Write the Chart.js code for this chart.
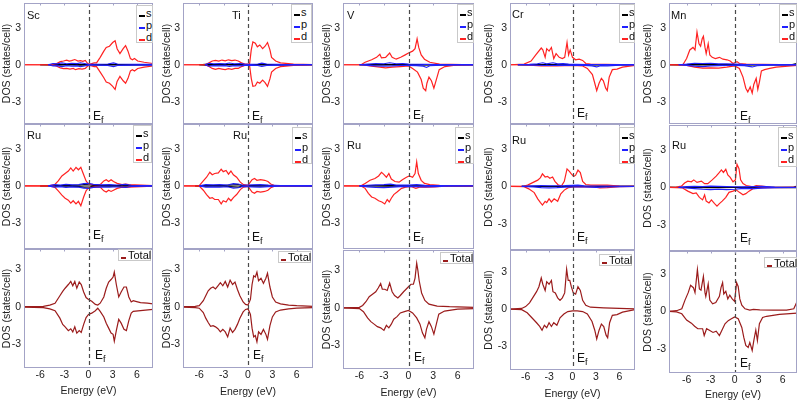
<!DOCTYPE html>
<html><head><meta charset="utf-8">
<script src="https://cdn.jsdelivr.net/npm/chart.js@4.4.0/dist/chart.umd.min.js"></script>
<style>
html,body{margin:0;padding:0;background:#fff;}
body{width:800px;height:402px;overflow:hidden;position:relative;font-family:"Liberation Sans",Arial,sans-serif;color:#111;}
canvas{position:absolute;}
.lbl{position:absolute;font-size:11px;line-height:12px;white-space:nowrap;}
.ef{position:absolute;font-size:12px;line-height:12px;white-space:nowrap;}
.ef sub{font-size:9px;vertical-align:-3px;line-height:0;}
.leg{position:absolute;border:1px solid #c9c9c9;background:#fff;box-sizing:border-box;font-size:11px;}
.leg .row{position:relative;height:12px;line-height:12px;padding-left:9px;}
.leg .smp{position:absolute;left:2px;top:8px;width:6px;height:2px;display:block;}
.tot{position:absolute;border:1px solid #c9c9c9;background:#fff;box-sizing:border-box;font-size:11px;line-height:10px;padding-left:9px;}
.tot .smp{position:absolute;left:2px;top:7px;width:5px;height:2px;display:block;}
</style>
</head><body>
<script>
// ---------------- DATA ----------------
const xTicks = [-6, -3, 0, 3, 6];
const yTicks = [-3, 0, 3];
const topLabels = ['Sc', 'Ti', 'V', 'Cr', 'Mn'];
const midLabel = 'Ru';

// Top row: Sc
const scS_up = [[-6,0],[-4.6,0.01],[-4.3,0.05],[-3.8,0.03],[-3,0.02],[-2,0.02],[-1,0.03],[0,0.01],[1.5,0.01],[3.2,0.02],[5,0.01],[8,0]];
const scS_dn = [[-6,0],[-4.6,-0.01],[-4.3,-0.05],[-3.8,-0.03],[-3,-0.02],[-2,-0.02],[-1,-0.03],[0,-0.01],[1.5,-0.01],[3.2,-0.02],[5,-0.01],[8,0]];
const scP_up = [[-5,0],[-4.4,0.1],[-3.9,0.07],[-3.3,0.15],[-2.7,0.08],[-2.1,0.12],[-1.4,0.09],[-1.0,0.16],[-0.5,0.1],[0,0.03],[1,0.04],[2.4,0.06],[3.1,0.15],[3.6,0.06],[5.5,0.04],[8,0.03]];
const scP_dn = [[-5,0],[-4.4,-0.1],[-3.9,-0.07],[-3.3,-0.15],[-2.7,-0.08],[-2.1,-0.12],[-1.4,-0.09],[-1.0,-0.16],[-0.5,-0.1],[0,-0.03],[1,-0.04],[2.4,-0.06],[3.1,-0.15],[3.6,-0.06],[5.5,-0.04],[8,-0.03]];
const scD_up = [[-8,0],[-4.5,0.02],[-4,0.08],[-3.5,0.25],[-3.1,0.3],[-2.7,0.37],[-2.4,0.3],[-2.1,0.33],[-1.7,0.42],[-1.3,0.3],[-1.0,0.33],[-0.7,0.28],[-0.4,0.35],[-0.1,0.1],[0.2,0.05],[0.7,0.15],[1.0,0.15],[1.45,0.6],[1.9,1.1],[2.2,1.4],[2.6,1.5],[3.0,1.8],[3.3,1.95],[3.55,1.3],[3.9,0.9],[4.3,1.3],[4.6,1.55],[4.9,1.1],[5.2,0.5],[5.45,0.4],[5.7,0.5],[6.1,0.3],[6.9,0.2],[8,0.1]];
const scD_dn = [[-8,0],[-4.5,-0.02],[-4,-0.1],[-3.5,-0.25],[-3.1,-0.32],[-2.7,-0.3],[-2.3,-0.35],[-1.9,-0.3],[-1.6,-0.4],[-1.2,-0.32],[-0.8,-0.35],[-0.4,-0.3],[-0.1,-0.1],[0.2,-0.05],[0.7,-0.15],[1.0,-0.15],[1.45,-0.6],[1.9,-1.05],[2.2,-1.4],[2.6,-1.5],[3.0,-1.75],[3.3,-2.0],[3.55,-1.35],[3.9,-0.95],[4.3,-1.3],[4.6,-1.5],[4.9,-1.1],[5.2,-0.5],[5.45,-0.4],[5.7,-0.5],[6.1,-0.3],[6.9,-0.2],[8,-0.1]];

// Top row: Ti
const tiS_up = [[-6,0],[-4.9,0.05],[-4.3,0.02],[-2.5,0.02],[-1,0.02],[0,0.01],[1.7,0.02],[4,0.01],[8,0]];
const tiS_dn = [[-6,0],[-4.9,-0.05],[-4.3,-0.02],[-2.5,-0.02],[-1,-0.02],[0,-0.01],[1.7,-0.02],[4,-0.01],[8,0]];
const tiP_up = [[-5.3,0],[-4.8,0.12],[-4.2,0.08],[-3.5,0.1],[-2.8,0.07],[-2.3,0.14],[-1.7,0.08],[-1.0,0.1],[-0.4,0.05],[0.3,0.03],[1.2,0.06],[1.7,0.13],[2.3,0.06],[4,0.03],[8,0.02]];
const tiP_dn = [[-5.3,0],[-4.8,-0.12],[-4.2,-0.08],[-3.5,-0.1],[-2.8,-0.07],[-2.3,-0.14],[-1.7,-0.08],[-1.0,-0.1],[-0.4,-0.05],[0.3,-0.03],[1.2,-0.06],[1.7,-0.13],[2.3,-0.06],[4,-0.03],[8,-0.02]];
const tiD_up = [[-8,0],[-5.2,0.02],[-4.8,0.15],[-4.4,0.3],[-4.0,0.35],[-3.6,0.3],[-3.2,0.38],[-2.8,0.32],[-2.4,0.4],[-2.0,0.33],[-1.6,0.38],[-1.2,0.3],[-0.8,0.15],[-0.4,0.05],[0,0.05],[0.2,0.1],[0.4,1.2],[0.6,1.85],[0.9,1.75],[1.15,1.45],[1.45,1.6],[1.8,1.3],[2.1,1.5],[2.4,1.8],[2.7,1.2],[2.9,0.6],[3.4,0.3],[4.0,0.15],[5.6,0.05],[8,0.02]];
const tiD_dn = [[-8,0],[-5.2,-0.02],[-4.8,-0.15],[-4.4,-0.3],[-4.0,-0.38],[-3.6,-0.3],[-3.2,-0.35],[-2.8,-0.4],[-2.4,-0.32],[-2.0,-0.38],[-1.6,-0.3],[-1.2,-0.3],[-0.8,-0.15],[-0.4,-0.05],[0,-0.05],[0.2,-0.1],[0.4,-1.1],[0.6,-1.75],[0.9,-1.7],[1.15,-1.4],[1.45,-1.5],[1.8,-1.25],[2.1,-1.45],[2.4,-1.75],[2.7,-1.15],[2.9,-0.6],[3.4,-0.3],[4.0,-0.15],[5.6,-0.05],[8,-0.02]];

// Top row: V
const vS_up = [[-6,0],[-4,0.01],[-2,0.02],[0,0.01],[2,0.01],[8,0]];
const vS_dn = [[-6,0],[-4,-0.01],[-2,-0.02],[0,-0.01],[2,-0.02],[8,0]];
const vP_up = [[-6,0],[-5,0.05],[-4,0.1],[-3,0.08],[-2.3,0.16],[-1.5,0.08],[-0.7,0.1],[0,0.05],[1,0.04],[2,0.03],[4,0.02],[8,0.01]];
const vP_dn = [[-6,0],[-5,-0.05],[-4,-0.1],[-3,-0.12],[-2,-0.1],[-1,-0.06],[0,-0.05],[1,-0.08],[1.8,-0.12],[2.2,-0.22],[2.6,-0.08],[4,-0.04],[8,-0.01]];
const vD_up = [[-8,0],[-5.75,0.02],[-5.3,0.2],[-4.5,0.4],[-3.9,0.6],[-3.5,0.85],[-3.3,0.55],[-2.8,0.6],[-2.3,0.95],[-2.0,0.6],[-1.5,0.45],[-0.95,0.6],[-0.4,0.8],[0,0.95],[0.5,1.1],[0.8,1.3],[1.05,2.1],[1.25,1.4],[1.55,0.8],[1.95,0.45],[2.6,0.2],[3.8,0.05],[8,0]];
const vD_dn = [[-8,0],[-5.5,-0.02],[-4.5,-0.12],[-3.5,-0.2],[-2.8,-0.25],[-2.0,-0.2],[-1.0,-0.15],[0,-0.1],[0.5,-0.3],[1.1,-0.6],[1.55,-1.2],[1.8,-1.9],[2.1,-2.1],[2.25,-1.5],[2.5,-1.0],[2.8,-1.3],[3.1,-1.9],[3.4,-1.2],[3.75,-0.4],[4.45,-0.15],[5.5,-0.05],[8,0]];

// Top row: Cr
const crS_up = [[-7,0],[-5,0.01],[-3,0.02],[-1,0.01],[1,0.01],[8,0]];
const crS_dn = [[-7,0],[-5,-0.01],[-3,-0.02],[-1,-0.01],[1,-0.01],[8,0]];
const crP_up = [[-7,0],[-5.5,0.03],[-4.5,0.08],[-3.8,0.16],[-3.3,0.07],[-2.5,0.16],[-1.9,0.07],[-1.2,0.09],[-0.5,0.05],[0.5,0.03],[2,0.02],[8,0.01]];
const crP_dn = [[-7,0],[-5,-0.03],[-3.5,-0.06],[-2,-0.05],[0,-0.03],[1.5,-0.05],[2.5,-0.1],[3.1,-0.18],[3.6,-0.08],[4.5,-0.1],[6,-0.03],[8,-0.01]];
const crD_up = [[-8,0],[-6.2,0.05],[-5.3,0.3],[-4.7,0.8],[-4.0,1.35],[-3.8,1.2],[-3.5,0.6],[-3.3,1.3],[-3.0,1.1],[-2.7,1.4],[-2.4,0.5],[-2.1,0.9],[-1.7,0.6],[-1.3,0.5],[-1.0,0.6],[-0.7,1.8],[-0.5,0.8],[-0.3,1.2],[0,0.6],[0.4,0.4],[0.85,0.45],[1.3,0.35],[1.7,0.1],[2.3,0.05],[8,0]];
const crD_dn = [[-8,0],[-6,-0.02],[-4,-0.1],[-2,-0.1],[0,-0.05],[1.3,-0.1],[1.9,-0.3],[2.55,-0.8],[2.85,-1.5],[3.1,-2.1],[3.4,-1.5],[3.7,-1.1],[3.95,-1.3],[4.25,-1.9],[4.45,-2.1],[4.7,-1.0],[5.1,-0.4],[5.7,-0.35],[6.4,-0.2],[8,-0.05]];

// Top row: Mn
const mnS_up = [[-8.2,0],[-6,0.01],[-4,0.02],[-2,0.01],[0,0.01],[7.2,0.02],[7.6,0.08],[7.8,0.1]];
const mnS_dn = [[-8.2,0],[-6,-0.01],[-4,-0.02],[-2,-0.01],[0,-0.01],[7.8,-0.02]];
const mnP_up = [[-7,0],[-6,0.05],[-5,0.12],[-4,0.1],[-3,0.12],[-2,0.07],[-1,0.08],[0,0.05],[1,0.03],[3,0.02],[7.8,0.01]];
const mnP_dn = [[-7,0],[-6,-0.05],[-5,-0.12],[-4,-0.15],[-3,-0.1],[-2,-0.08],[-1,-0.06],[0,-0.05],[1.2,-0.08],[2.2,-0.18],[2.8,-0.08],[4,-0.04],[7.8,-0.01]];
const mnD_up = [[-8.2,0],[-6.45,0.02],[-6.0,0.5],[-5.6,1.2],[-5.2,1.4],[-4.95,1.2],[-4.7,2.65],[-4.45,1.7],[-4.25,1.5],[-4.05,2.1],[-3.9,2.3],[-3.7,1.4],[-3.55,0.9],[-3.3,1.7],[-3.1,0.8],[-2.8,0.6],[-2.4,0.5],[-1.9,0.6],[-1.45,0.45],[-0.95,0.4],[-0.55,0.3],[-0.2,0.1],[0.3,0.25],[0.6,0.1],[1.45,0.05],[7.8,0]];
const mnD_dn = [[-8.2,0],[-6,-0.05],[-5,-0.2],[-4,-0.27],[-3,-0.25],[-2,-0.28],[-1,-0.2],[0,-0.1],[0.6,-0.3],[1.05,-1.0],[1.4,-1.9],[1.65,-2.2],[1.95,-1.8],[2.2,-2.3],[2.4,-1.6],[2.7,-1.1],[2.9,-2.0],[3.1,-1.4],[3.35,-0.5],[3.75,-0.4],[4.4,-0.3],[5.2,-0.2],[7.8,-0.05]];

// Middle row: Ru in each compound
const ru1S_up = [[-6,0],[-4.5,0.02],[-2.5,0.03],[-1.2,0.06],[-0.5,0.1],[0.2,0.08],[0.8,0.02],[3,0.02],[8,0]];
const ru1S_dn = [[-6,0],[-4.5,-0.02],[-2.5,-0.03],[-1.2,-0.06],[-0.5,-0.1],[0.2,-0.08],[0.8,-0.02],[3,-0.02],[8,0]];
const ru1P_up = [[-5,0],[-4.2,0.1],[-3.5,0.06],[-2.8,0.12],[-2.0,0.08],[-1.2,0.1],[-0.6,0.18],[0,0.2],[0.6,0.12],[1.5,0.08],[2.6,0.1],[3.5,0.07],[4.6,0.12],[5.3,0.05],[8,0.02]];
const ru1P_dn = [[-5,0],[-4.2,-0.1],[-3.5,-0.06],[-2.8,-0.12],[-2.0,-0.08],[-1.2,-0.1],[-0.6,-0.18],[0,-0.2],[0.6,-0.12],[1.5,-0.08],[2.6,-0.1],[3.5,-0.07],[4.6,-0.12],[5.3,-0.05],[8,-0.02]];
const ru1D_up = [[-8,0],[-4.8,0.02],[-4.2,0.1],[-3.75,0.4],[-3.3,0.8],[-2.9,1.0],[-2.5,1.2],[-2.2,1.45],[-1.9,1.2],[-1.55,1.5],[-1.25,1.3],[-0.95,1.5],[-0.6,0.9],[-0.3,0.4],[0,0.15],[0.6,0.1],[1.45,0.1],[1.9,0.4],[2.2,0.5],[2.5,0.35],[2.8,0.5],[3.1,0.35],[3.55,0.2],[4.15,0.1],[4.6,0.15],[5.0,0.1],[8,0.03]];
const ru1D_dn = [[-8,0],[-4.8,-0.02],[-4.2,-0.1],[-3.75,-0.4],[-3.3,-0.75],[-2.9,-1.0],[-2.5,-1.15],[-2.2,-1.4],[-1.9,-1.2],[-1.55,-1.45],[-1.25,-1.25],[-0.95,-1.6],[-0.6,-0.9],[-0.3,-0.4],[0,-0.15],[0.6,-0.1],[1.45,-0.1],[1.9,-0.4],[2.2,-0.5],[2.5,-0.35],[2.8,-0.45],[3.1,-0.35],[3.55,-0.2],[4.15,-0.1],[4.6,-0.12],[5.0,-0.1],[8,-0.03]];

const ru2S_up = [[-6.5,0],[-5,0.02],[-3,0.03],[-1.8,0.08],[-1.2,0.1],[-0.6,0.02],[0.5,0.02],[3,0.01],[8,0]];
const ru2S_dn = [[-6.5,0],[-5,-0.02],[-3,-0.03],[-1.8,-0.08],[-1.2,-0.1],[-0.6,-0.02],[0.5,-0.02],[3,-0.01],[8,0]];
const ru2P_up = [[-6,0],[-5.2,0.1],[-4.3,0.08],[-3.5,0.1],[-2.5,0.07],[-1.8,0.18],[-1.2,0.15],[-0.7,0.05],[0.5,0.08],[1.5,0.1],[2.5,0.06],[4,0.03],[8,0.02]];
const ru2P_dn = [[-6,0],[-5.2,-0.1],[-4.3,-0.08],[-3.5,-0.1],[-2.5,-0.07],[-1.8,-0.18],[-1.2,-0.15],[-0.7,-0.05],[0.5,-0.08],[1.5,-0.1],[2.5,-0.06],[4,-0.03],[8,-0.02]];
const ru2D_up = [[-8,0],[-6.0,0.02],[-5.5,0.4],[-5.1,0.7],[-4.7,1.1],[-4.4,0.9],[-4.1,1.0],[-3.65,1.05],[-3.3,1.35],[-3.05,1.15],[-2.7,1.25],[-2.4,0.95],[-2.1,1.2],[-1.8,0.9],[-1.4,0.7],[-0.95,0.3],[-0.55,0.1],[0,0.05],[0.5,0.5],[0.8,0.6],[1.1,0.45],[1.55,0.5],[2.05,0.45],[2.45,0.35],[2.8,0.15],[3.2,0.05],[8,0]];
const ru2D_dn = [[-8,0],[-6.0,-0.02],[-5.5,-0.35],[-5.1,-0.7],[-4.7,-1.0],[-4.4,-0.95],[-4.1,-1.1],[-3.65,-1.1],[-3.3,-1.45],[-3.05,-1.2],[-2.7,-1.3],[-2.4,-1.0],[-2.1,-1.2],[-1.8,-0.95],[-1.4,-0.7],[-0.95,-0.3],[-0.55,-0.1],[0,-0.05],[0.5,-0.5],[0.8,-0.6],[1.1,-0.45],[1.55,-0.5],[2.05,-0.45],[2.45,-0.35],[2.8,-0.15],[3.2,-0.05],[8,0]];

const ru3S_up = [[-6,0],[-4,0.01],[-2,0.02],[0,0.01],[2,0.01],[8,0]];
const ru3S_dn = [[-6,0],[-4,-0.01],[-2,-0.02],[0,-0.01],[2,-0.01],[8,0]];
const ru3P_up = [[-6,0],[-5,0.05],[-4,0.08],[-3,0.1],[-2.2,0.14],[-1.5,0.06],[0,0.06],[1,0.1],[2,0.04],[4,0.03],[8,0.01]];
const ru3P_dn = [[-6,0],[-5,-0.08],[-4,-0.12],[-3,-0.14],[-2,-0.1],[-1,-0.06],[0,-0.04],[1,-0.06],[2,-0.08],[3.2,-0.06],[4.5,-0.02],[8,-0.01]];
const ru3D_up = [[-8,0],[-5.75,0.02],[-5.3,0.2],[-4.7,0.45],[-4.1,0.6],[-3.65,0.8],[-3.3,1.1],[-3.05,0.95],[-2.7,0.7],[-2.4,1.0],[-2.1,0.55],[-1.65,0.35],[-1.15,0.3],[-0.75,0.5],[-0.25,0.7],[0.1,0.8],[0.5,0.7],[0.8,1.0],[1.0,1.95],[1.2,1.0],[1.55,0.45],[1.95,0.2],[2.6,0.1],[3.8,0.05],[8,0]];
const ru3D_dn = [[-8,0],[-5.75,-0.02],[-5.3,-0.2],[-4.9,-0.6],[-4.5,-0.9],[-4.1,-1.0],[-3.65,-1.2],[-3.25,-1.3],[-2.9,-1.46],[-2.6,-1.1],[-2.35,-1.3],[-2.1,-1.0],[-1.8,-0.7],[-1.4,-0.5],[-0.85,-0.2],[-0.35,-0.1],[0.3,-0.05],[0.9,-0.2],[1.35,-0.1],[2.15,-0.1],[3.2,-0.08],[4.5,-0.02],[8,0]];

const ru4S_up = [[-6.5,0],[-4,0.01],[-2,0.01],[0,0.01],[2,0.01],[8,0]];
const ru4S_dn = [[-6.5,0],[-4,-0.01],[-2,-0.01],[0,-0.01],[2,-0.01],[8,0]];
const ru4P_up = [[-6.5,0],[-5,0.04],[-4,0.06],[-3,0.05],[-1,0.06],[0,0.08],[0.7,0.1],[1.5,0.04],[3,0.03],[8,0.01]];
const ru4P_dn = [[-6.5,0],[-5,-0.05],[-4,-0.1],[-3,-0.12],[-2,-0.1],[-1,-0.06],[0,-0.04],[1.5,-0.05],[3,-0.08],[4.4,-0.05],[8,-0.01]];
const ru4D_up = [[-8,0],[-6.2,0.02],[-5.75,0.1],[-5.1,0.3],[-4.45,0.5],[-4.1,0.7],[-3.85,1.0],[-3.5,0.75],[-3.2,0.8],[-2.9,0.65],[-2.55,0.75],[-2.25,0.4],[-1.8,0.1],[-1.4,0.05],[-1.05,0.4],[-0.7,1.4],[-0.4,1.2],[-0.15,1.0],[0.15,0.8],[0.4,0.9],[0.7,1.3],[1.0,1.1],[1.3,0.4],[1.7,0.15],[2.35,0.1],[4.45,0.1],[6,0.03],[8,0]];
const ru4D_dn = [[-8,0],[-6.2,-0.02],[-5.6,-0.2],[-4.9,-0.5],[-4.45,-1.0],[-4.1,-1.3],[-3.85,-1.5],[-3.5,-1.2],[-3.3,-1.3],[-3.0,-1.0],[-2.7,-1.25],[-2.35,-1.0],[-1.9,-1.2],[-1.5,-0.6],[-1.05,-0.3],[-0.55,-0.1],[0.2,-0.05],[1.05,-0.05],[2.75,-0.05],[3.5,-0.12],[4.45,-0.1],[6,-0.03],[8,0]];

const ru5S_up = [[-8.2,0],[-6.5,0.01],[-4,0.02],[-2,0.02],[0,0.01],[2,0.01],[7.4,0.02],[7.8,0.1]];
const ru5S_dn = [[-8.2,0],[-6.5,-0.01],[-4,-0.02],[-2,-0.02],[0,-0.01],[2,-0.01],[7.8,-0.02]];
const ru5P_up = [[-7,0],[-6,0.06],[-5,0.08],[-4,0.06],[-3,0.1],[-2,0.08],[-1,0.06],[0,0.05],[1,0.04],[2.5,0.06],[3.4,0.08],[5,0.02],[7.8,0.01]];
const ru5P_dn = [[-7,0],[-6,-0.05],[-5,-0.1],[-4,-0.15],[-3,-0.18],[-2,-0.15],[-1,-0.18],[0,-0.15],[0.8,-0.1],[1.5,-0.08],[2.5,-0.1],[3.3,-0.06],[5,-0.02],[7.8,-0.01]];
const ru5D_up = [[-8.2,0],[-7.3,0.02],[-6.65,0.1],[-6.25,0.35],[-5.85,0.5],[-5.4,0.45],[-5.1,0.6],[-4.7,0.4],[-4.15,0.5],[-3.75,0.3],[-3.35,0.3],[-2.8,0.6],[-2.3,0.9],[-1.9,1.2],[-1.65,1.4],[-1.4,1.2],[-1.1,1.45],[-0.85,1.0],[-0.55,0.8],[-0.2,0.45],[0.1,0.6],[0.3,1.85],[0.55,1.5],[0.75,0.6],[1.05,0.3],[1.45,0.15],[2.3,0.05],[2.7,0.15],[3.35,0.1],[4.5,0.02],[7.8,0]];
const ru5D_dn = [[-8.2,0],[-6.5,-0.05],[-5.85,-0.3],[-5.2,-0.5],[-4.8,-0.45],[-4.4,-0.8],[-4.0,-1.0],[-3.75,-0.6],[-3.55,-1.1],[-3.2,-1.25],[-2.9,-1.0],[-2.5,-1.3],[-2.2,-1.5],[-1.9,-1.3],[-1.55,-1.1],[-1.1,-0.8],[-0.7,-0.4],[-0.2,-0.3],[0.2,-0.2],[0.6,-0.4],[1.05,-0.6],[1.4,-0.5],[1.8,-0.3],[2.3,-0.1],[3.5,-0.03],[7.8,0]];

// Bottom row: Total DOS
const tot1_up = [[-8,0.02],[-5.6,0.05],[-4.8,0.15],[-4.15,0.3],[-3.55,0.9],[-3.2,1.25],[-2.9,1.5],[-2.5,1.8],[-2.2,2.05],[-1.95,1.7],[-1.7,2.05],[-1.45,1.5],[-1.15,2.0],[-0.9,1.8],[-0.6,1.2],[-0.3,0.75],[0,0.6],[0.4,0.45],[0.85,0.2],[1.15,0.15],[1.45,0.3],[1.9,0.8],[2.2,1.5],[2.5,2.0],[2.8,2.2],[3.05,2.4],[3.2,2.8],[3.45,1.8],[3.75,0.8],[4.05,1.2],[4.4,1.6],[4.7,1.6],[5.0,0.8],[5.3,0.4],[5.55,0.5],[5.85,0.45],[6.45,0.35],[7.3,0.3],[8,0.25]];
const tot1_dn = [[-8,-0.02],[-5.6,-0.05],[-4.8,-0.15],[-4.15,-0.3],[-3.55,-0.9],[-3.2,-1.4],[-2.9,-1.6],[-2.5,-1.9],[-2.2,-1.75],[-1.95,-2.0],[-1.7,-1.6],[-1.45,-2.1],[-1.15,-1.9],[-0.9,-2.05],[-0.6,-1.4],[-0.3,-0.85],[0,-0.6],[0.4,-0.5],[0.85,-0.3],[1.15,-0.1],[1.45,-0.35],[1.9,-0.8],[2.2,-1.3],[2.5,-1.7],[2.8,-2.1],[3.05,-2.2],[3.2,-2.75],[3.45,-1.9],[3.75,-1.0],[4.05,-1.3],[4.4,-1.8],[4.7,-1.9],[5.0,-1.1],[5.3,-0.5],[5.55,-0.35],[6.45,-0.3],[8,-0.2]];
const tot2_up = [[-8,0.02],[-6.5,0.05],[-6,0.1],[-5.5,0.5],[-5.2,0.9],[-4.9,1.3],[-4.6,1.5],[-4.3,1.6],[-4.0,1.45],[-3.7,1.7],[-3.4,1.95],[-3.1,1.7],[-2.8,2.05],[-2.5,1.6],[-2.2,2.15],[-1.9,1.8],[-1.6,2.0],[-1.3,1.4],[-1.0,0.9],[-0.6,0.4],[-0.3,0.2],[0,0.15],[0.3,0.6],[0.5,1.8],[0.7,2.5],[0.9,2.4],[1.1,2.8],[1.3,2.1],[1.6,2.3],[1.9,1.9],[2.2,2.3],[2.4,2.7],[2.7,1.6],[3.0,0.8],[3.4,0.4],[4.0,0.25],[5,0.15],[6,0.1],[8,0.05]];
const tot2_dn = [[-8,-0.02],[-6.5,-0.05],[-6,-0.1],[-5.5,-0.45],[-5.2,-0.9],[-4.9,-1.25],[-4.6,-1.55],[-4.3,-1.5],[-4.0,-1.6],[-3.7,-1.75],[-3.4,-2.0],[-3.1,-1.8],[-2.8,-2.0],[-2.5,-2.4],[-2.2,-1.7],[-1.9,-2.05],[-1.6,-1.8],[-1.3,-1.4],[-1.0,-0.9],[-0.6,-0.4],[-0.3,-0.2],[0,-0.15],[0.3,-0.6],[0.5,-1.7],[0.7,-2.4],[0.9,-2.3],[1.1,-2.8],[1.3,-2.0],[1.6,-2.2],[1.9,-1.8],[2.2,-2.2],[2.4,-2.6],[2.7,-1.5],[3.0,-0.8],[3.4,-0.4],[4.0,-0.25],[5,-0.15],[6,-0.1],[8,-0.05]];
const tot3_up = [[-8,0],[-6,0.05],[-5.6,0.2],[-5.2,0.5],[-4.8,0.9],[-4.4,1.1],[-4.0,1.3],[-3.7,1.6],[-3.4,1.95],[-3.2,1.5],[-2.9,1.5],[-2.6,1.4],[-2.3,2.0],[-2.0,1.3],[-1.7,1.0],[-1.3,0.8],[-1.0,1.0],[-0.6,1.3],[-0.3,1.5],[0,1.7],[0.3,1.9],[0.6,1.9],[0.8,2.4],[1.0,3.6],[1.15,3.0],[1.3,2.2],[1.6,1.2],[2.0,0.6],[2.5,0.3],[3.5,0.15],[5,0.1],[8,0.05]];
const tot3_dn = [[-8,0],[-6,-0.05],[-5.5,-0.3],[-5.0,-0.8],[-4.6,-1.1],[-4.2,-1.3],[-3.8,-1.5],[-3.4,-1.6],[-3.0,-1.8],[-2.7,-1.4],[-2.4,-1.6],[-2.1,-1.3],[-1.8,-0.9],[-1.4,-0.7],[-1.0,-0.4],[-0.5,-0.3],[0,-0.2],[0.5,-0.4],[1.0,-0.8],[1.4,-1.3],[1.7,-2.0],[2.0,-2.4],[2.2,-1.7],[2.5,-1.1],[2.8,-1.5],[3.1,-2.1],[3.4,-1.3],[3.7,-0.5],[4.4,-0.25],[6,-0.1],[8,-0.05]];
const tot4_up = [[-8,0],[-6.5,0.05],[-6,0.2],[-5.5,0.5],[-5,1.0],[-4.6,1.4],[-4.3,1.8],[-4.0,2.5],[-3.8,2.0],[-3.5,1.5],[-3.3,2.2],[-3.0,2.0],[-2.7,2.3],[-2.5,1.4],[-2.2,1.3],[-1.9,0.9],[-1.6,0.7],[-1.3,0.9],[-1.0,1.3],[-0.75,3.2],[-0.55,2.3],[-0.35,2.3],[-0.15,1.8],[0.1,1.3],[0.4,1.2],[0.7,1.8],[1.0,1.5],[1.3,0.7],[1.7,0.3],[2.3,0.15],[4,0.1],[6,0.05],[8,0.02]];
const tot4_dn = [[-8,0],[-6.5,-0.05],[-5.8,-0.3],[-5.2,-0.7],[-4.6,-1.1],[-4.2,-1.4],[-3.9,-1.7],[-3.6,-1.3],[-3.3,-1.5],[-3.0,-1.1],[-2.7,-1.4],[-2.4,-1.1],[-2.0,-1.3],[-1.6,-0.7],[-1.1,-0.4],[-0.6,-0.2],[0,-0.15],[0.6,-0.15],[1.3,-0.2],[1.9,-0.4],[2.5,-1.0],[2.85,-1.7],[3.1,-2.4],[3.4,-1.7],[3.7,-1.2],[4.0,-1.4],[4.3,-2.1],[4.5,-2.3],[4.75,-1.1],[5.1,-0.5],[5.7,-0.45],[6.4,-0.25],[8,-0.05]];
const tot5_up = [[-8.2,0],[-7.25,0.05],[-6.6,0.2],[-6.2,0.9],[-5.8,1.5],[-5.5,2.1],[-5.15,1.9],[-4.95,1.5],[-4.65,3.35],[-4.4,1.8],[-4.2,1.7],[-3.9,2.8],[-3.7,1.5],[-3.6,1.2],[-3.3,2.2],[-3.1,0.9],[-2.75,0.6],[-2.35,0.7],[-1.9,1.2],[-1.7,1.9],[-1.5,2.3],[-1.35,1.4],[-1.1,1.6],[-0.85,1.0],[-0.6,1.3],[-0.3,1.0],[0,0.8],[0.25,2.3],[0.45,2.0],[0.65,1.0],[0.9,0.5],[1.3,0.2],[1.9,0.1],[2.35,0.15],[3.15,0.12],[4.8,0.1],[6.5,0.1],[7.4,0.2],[7.75,0.7],[7.8,0.75]];
const tot5_dn = [[-8.2,0],[-7.25,-0.05],[-6.6,-0.2],[-6.0,-0.7],[-5.4,-0.95],[-5.0,-1.2],[-4.6,-1.4],[-4.0,-1.4],[-3.8,-1.95],[-3.5,-1.4],[-3.1,-1.55],[-2.7,-1.7],[-2.3,-1.6],[-1.9,-1.95],[-1.6,-1.55],[-1.2,-1.0],[-0.8,-0.75],[-0.4,-0.6],[0,-0.45],[0.45,-0.6],[0.9,-1.3],[1.15,-2.1],[1.4,-2.75],[1.7,-2.9],[1.9,-2.5],[2.2,-3.15],[2.4,-2.35],[2.65,-1.5],[2.85,-2.35],[3.1,-1.0],[3.5,-0.5],[4.0,-0.4],[5.6,-0.25],[7.8,-0.15]];

// ---------------- LAYOUT / STYLE ----------------
const FONT = '"Liberation Sans", Arial, sans-serif';
const COLORS = {s: '#000000', p: '#2020ff', d: '#ff2222', total: '#9b1c1c'};
const COLS = [
  {titleX: 7,   plotL: 24,  plotR: 153, xMin: -8,   xMax: 8},
  {titleX: 167, plotL: 183, plotR: 313, xMin: -8,   xMax: 8},
  {titleX: 327, plotL: 343, plotR: 474, xMin: -8,   xMax: 8},
  {titleX: 489, plotL: 510, plotR: 635, xMin: -8,   xMax: 8},
  {titleX: 648, plotL: 669, plotR: 797, xMin: -8.2, xMax: 7.8}
];
const ROWGEO = [
  [{top:3,bottom:124,yMin:-4.8,yMax:5},{top:124,bottom:249,yMin:-5.1,yMax:5},{top:249,bottom:368,yMin:-4.9,yMax:4.65,axisBottom:397}],
  [{top:3,bottom:124,yMin:-4.8,yMax:5},{top:124,bottom:249,yMin:-5.1,yMax:5},{top:249,bottom:368,yMin:-4.9,yMax:4.65,axisBottom:398}],
  [{top:3,bottom:124,yMin:-4.8,yMax:5},{top:124,bottom:249,yMin:-5.1,yMax:5},{top:250,bottom:369,yMin:-4.9,yMax:4.65,axisBottom:399}],
  [{top:3,bottom:124,yMin:-4.8,yMax:5},{top:124,bottom:250,yMin:-5.1,yMax:5},{top:250,bottom:370,yMin:-4.9,yMax:4.75,axisBottom:400}],
  [{top:3,bottom:124,yMin:-4.8,yMax:5},{top:125,bottom:251,yMin:-5.1,yMax:5},{top:251,bottom:373,yMin:-4.96,yMax:4.85,axisBottom:401}]
];

const spdSets = [
  [scS_up, scS_dn, scP_up, scP_dn, scD_up, scD_dn],
  [tiS_up, tiS_dn, tiP_up, tiP_dn, tiD_up, tiD_dn],
  [vS_up, vS_dn, vP_up, vP_dn, vD_up, vD_dn],
  [crS_up, crS_dn, crP_up, crP_dn, crD_up, crD_dn],
  [mnS_up, mnS_dn, mnP_up, mnP_dn, mnD_up, mnD_dn],
  [ru1S_up, ru1S_dn, ru1P_up, ru1P_dn, ru1D_up, ru1D_dn],
  [ru2S_up, ru2S_dn, ru2P_up, ru2P_dn, ru2D_up, ru2D_dn],
  [ru3S_up, ru3S_dn, ru3P_up, ru3P_dn, ru3D_up, ru3D_dn],
  [ru4S_up, ru4S_dn, ru4P_up, ru4P_dn, ru4D_up, ru4D_dn],
  [ru5S_up, ru5S_dn, ru5P_up, ru5P_dn, ru5D_up, ru5D_dn]
];
const totSets = [[tot1_up, tot1_dn],[tot2_up, tot2_dn],[tot3_up, tot3_dn],[tot4_up, tot4_dn],[tot5_up, tot5_dn]];

const ELEM_POS = [[27,15],[232,15],[347,15],[512,14],[671,15],[27,135],[233,135],[347,145],[512,140],[672,145]];
const EF_POS = [[93,116],[252,116],[413,115],[577,113],[740,116],[93,235],[252,237],[413,237],[577,237],[740,238],[95,355],[253,355],[414,357],[577,358],[740,363]];
const LEG_SPD = [[136,5,17,38],[291,4,21,39],[457,4,17,39],[619,4,16,39],[779,4,18,39],[133,125,19,38],[292,127,20,37],[455,127,19,37],[619,127,16,37],[778,127,19,40]];
const LEG_TOT = [[118,249,33,12],[278,251,33,12],[440,252,33,12],[599,254,33,12],[764,257,33,11]];

const panelPlugin = {
  id: 'panelDecor',
  afterDatasetsDraw(chart) {
    const {ctx, chartArea: a, scales: {x}} = chart;
    ctx.save();
    const ex = Math.round(x.getPixelForValue(0)) + 0.5;
    ctx.strokeStyle = '#4a4a4a'; ctx.lineWidth = 1.2; ctx.setLineDash([4, 3]);
    ctx.beginPath(); ctx.moveTo(ex, a.top); ctx.lineTo(ex, a.bottom); ctx.stroke();
    ctx.setLineDash([]);
    ctx.strokeStyle = '#a3a3c6'; ctx.lineWidth = 1;
    ctx.strokeRect(a.left + 0.5, a.top + 0.5, a.right - a.left - 1, a.bottom - a.top - 1);
    ctx.beginPath();
    xTicks.forEach(v => {
      const px = Math.round(x.getPixelForValue(v)) + 0.5;
      ctx.moveTo(px, a.top); ctx.lineTo(px, a.top + 2.5);
    });
    ctx.stroke();
    ctx.restore();
  }
};

function line(data, color) {
  return {data, borderColor: color, backgroundColor: color, borderWidth: 1.2, pointRadius: 0, tension: 0, fill: false, showLine: true};
}

function makePanel(col, row, datasets) {
  const c = COLS[col], g = ROWGEO[col][row];
  const isBottom = row === 2;
  const PADT = 12, PADB = isBottom ? 0 : 12, PADR = 2;
  const cLeft = Math.round(c.titleX - 6.3);
  const yW = c.plotL - cLeft;
  const xH = isBottom ? g.axisBottom - g.bottom : 0;
  const cTop = g.top - PADT;
  const w = c.plotR + PADR - cLeft;
  const h = (g.bottom - g.top) + PADT + (isBottom ? xH : PADB);
  const cv = document.createElement('canvas');
  cv.width = w; cv.height = h;
  cv.style.left = cLeft + 'px'; cv.style.top = cTop + 'px';
  cv.style.width = w + 'px'; cv.style.height = h + 'px';
  document.body.appendChild(cv);
  new Chart(cv, {
    type: 'scatter',
    data: {datasets},
    options: {
      responsive: false, animation: false, events: [],
      layout: {padding: {left: 0, right: PADR, top: PADT, bottom: PADB}},
      plugins: {legend: {display: false}, tooltip: {enabled: false}},
      scales: {
        x: {
          type: 'linear', min: c.xMin, max: c.xMax, display: isBottom,
          afterBuildTicks: s => { s.ticks = xTicks.map(v => ({value: v})); },
          afterFit: s => { if (isBottom) s.height = xH; },
          grid: {display: false, drawTicks: false}, border: {display: false},
          ticks: {padding: 1, maxRotation: 0, autoSkip: false, color: '#222', font: {family: FONT, size: 10.5}, callback: v => String(v)},
          title: {display: true, text: 'Energy (eV)', color: '#222', padding: 0, font: {family: FONT, size: 10.5}}
        },
        y: {
          type: 'linear', min: g.yMin, max: g.yMax,
          afterBuildTicks: s => { s.ticks = yTicks.map(v => ({value: v})); },
          afterFit: s => { s.width = yW; },
          grid: {display: false, drawTicks: false}, border: {display: false},
          ticks: {padding: 3, autoSkip: false, color: '#222', font: {family: FONT, size: 10.5}, callback: v => String(v)},
          title: {display: true, text: 'DOS (states/cell)', color: '#222', padding: 0, font: {family: FONT, size: 10.5}}
        }
      }
    },
    plugins: [panelPlugin]
  });
}

Chart.defaults.font.family = FONT;

// build s/p/d panels (rows 0,1); first dataset is drawn on top
spdSets.forEach((sets, i) => {
  const row = i < 5 ? 0 : 1, col = i % 5;
  const [sU, sD, pU, pD, dU, dD] = sets;
  makePanel(col, row, [
    line(pU, COLORS.p), line(pD, COLORS.p),
    line(dU, COLORS.d), line(dD, COLORS.d),
    line(sU, COLORS.s), line(sD, COLORS.s)
  ]);
});
// total panels (row 2)
totSets.forEach((sets, col) => {
  makePanel(col, 2, [line(sets[0], COLORS.total), line(sets[1], COLORS.total)]);
});

// ---------- text overlays ----------
function addDiv(cls, html, left, top, extra) {
  const d = document.createElement('div');
  d.className = cls; d.innerHTML = html;
  d.style.left = left + 'px'; d.style.top = top + 'px';
  if (extra) Object.assign(d.style, extra);
  document.body.appendChild(d);
  return d;
}
ELEM_POS.forEach((p, i) => {
  addDiv('lbl', i < 5 ? topLabels[i] : midLabel, p[0], p[1] - 6);
});
EF_POS.forEach(p => addDiv('ef', 'E<sub>f</sub>', p[0], p[1] - 6));
LEG_SPD.forEach(p => {
  const html = ['s', 'p', 'd'].map(k => `<div class="row"><span class="smp" style="background-color:${COLORS[k]}"></span>${k}</div>`).join('');
  addDiv('leg', html, p[0], p[1], {width: p[2] + 'px', height: p[3] + 'px', paddingTop: '1px'});
});
LEG_TOT.forEach(p => {
  addDiv('tot', `<span class="smp" style="background-color:${COLORS.total}"></span>Total`, p[0], p[1], {width: p[2] + 'px', height: p[3] + 'px'});
});
</script>
</body></html>
